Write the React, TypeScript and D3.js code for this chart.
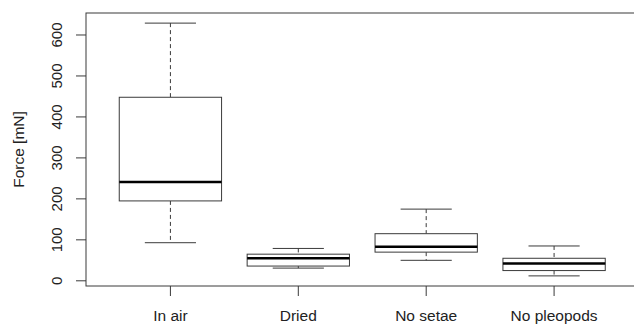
import React from "react";
import * as d3 from "d3";

const categories = ["In air", "Dried", "No setae", "No pleopods"];
const lowerWhisker = [93, 31, 50, 12];
const q1 = [195, 36, 70, 25];
const median = [241, 55, 83, 42];
const q3 = [448, 65, 115, 55];
const upperWhisker = [629, 79, 175, 85];
const yTicks = [0, 100, 200, 300, 400, 500, 600];

const W = 634;
const H = 325;
const left = 86;
const right = 638.5;
const top = 13;
const bottom = 286;
const font = "'Liberation Sans', Arial, Helvetica, sans-serif";

export default function App() {
  const lo = d3.min(lowerWhisker)!;
  const hi = d3.max(upperWhisker)!;
  const ext = (hi - lo) * 0.04;
  const y = d3.scaleLinear().domain([lo - ext, hi + ext]).range([bottom, top]);
  const n = categories.length;
  const xExt = (n + 0.5 - 0.5) * 0.04;
  const x = d3.scaleLinear().domain([0.5 - xExt, n + 0.5 + xExt]).range([left, right]);
  const unit = x(2) - x(1);
  const half = unit * 0.4;
  const staple = half * 0.5;
  const lineCol = "#3a3a3a";
  const textCol = "#222";

  return (
    <svg width={W} height={H} style={{ position: "absolute", left: 0, top: 0 }}>
      <rect x={0} y={0} width={W} height={H} fill="#fff" />
      {categories.map((c, i) => {
        const cx = x(i + 1);
        return (
          <g key={c}>
            <line x1={cx} x2={cx} y1={y(upperWhisker[i])} y2={y(q3[i])} stroke={lineCol} strokeWidth={1} strokeDasharray="4,3" />
            <line x1={cx} x2={cx} y1={y(q1[i])} y2={y(lowerWhisker[i])} stroke={lineCol} strokeWidth={1} strokeDasharray="4,3" />
            <line x1={cx - staple} x2={cx + staple} y1={y(upperWhisker[i])} y2={y(upperWhisker[i])} stroke={lineCol} strokeWidth={1} />
            <line x1={cx - staple} x2={cx + staple} y1={y(lowerWhisker[i])} y2={y(lowerWhisker[i])} stroke={lineCol} strokeWidth={1} />
            <rect x={cx - half} y={y(q3[i])} width={half * 2} height={y(q1[i]) - y(q3[i])} fill="#fff" stroke={lineCol} strokeWidth={1} />
            <line x1={cx - half} x2={cx + half} y1={y(median[i])} y2={y(median[i])} stroke="#000" strokeWidth={2.5} />
          </g>
        );
      })}
      <rect x={left} y={top} width={right - left} height={bottom - top} fill="none" stroke={lineCol} strokeWidth={1} />
      {yTicks.map((t) => (
        <g key={t}>
          <line x1={left - 10} x2={left} y1={y(t)} y2={y(t)} stroke={lineCol} strokeWidth={1} />
          <text
            transform={`translate(${62},${y(t)}) rotate(-90)`}
            textAnchor="middle"
            fontFamily={font}
            fontSize={15}
            fill={textCol}
          >
            {t}
          </text>
        </g>
      ))}
      {categories.map((c, i) => (
        <g key={c + "t"}>
          <line x1={x(i + 1)} x2={x(i + 1)} y1={bottom} y2={bottom + 10} stroke={lineCol} strokeWidth={1} />
          <text x={x(i + 1)} y={321} textAnchor="middle" fontFamily={font} fontSize={15.5} fill={textCol}>
            {c}
          </text>
        </g>
      ))}
      <text
        transform={`translate(${24},${(top + bottom) / 2}) rotate(-90)`}
        textAnchor="middle"
        fontFamily={font}
        fontSize={15.5}
        fill={textCol}
      >
        Force [mN]
      </text>
    </svg>
  );
}
